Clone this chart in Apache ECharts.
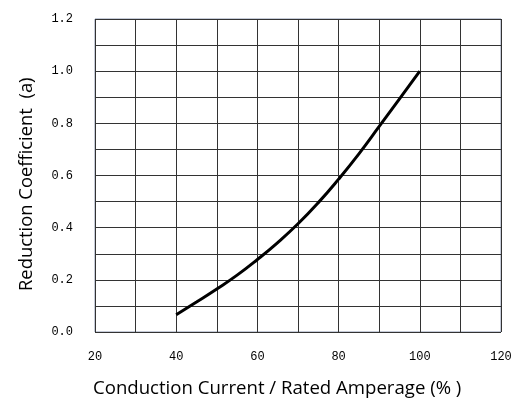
<!DOCTYPE html>
<html><head><meta charset="utf-8">
<script src="https://cdn.jsdelivr.net/npm/echarts@6/dist/echarts.min.js"></script>
<style>html,body{margin:0;padding:0;background:#fff}#c{width:512px;height:401px}</style>
</head><body><div id="c"></div>
<script>
const currentPct = [40, 45, 50, 55, 60, 65, 70, 75, 80, 85, 90, 95, 100];
const reductionCoef = [0.066, 0.115, 0.165, 0.218, 0.278, 0.343, 0.415, 0.496, 0.586, 0.683, 0.788, 0.894, 1.0];
const xTitle = 'Conduction Current / Rated Amperage (% )';
const yTitle = 'Reduction Coefficient  (a)';

const chart = echarts.init(document.getElementById('c'), null, {renderer: 'canvas'});
const tickFont = {fontFamily: 'Liberation Mono', fontSize: 12, color: '#000'};
chart.setOption({
  animation: false,
  grid: {left: 95, right: 11, top: 19, bottom: 69, show: true, borderColor: '#8a96b0', borderWidth: 1,
         containLabel: false, outerBoundsMode: 'none'},
  xAxis: {
    type: 'value', min: 20, max: 120, interval: 10,
    axisLine: {show: false}, axisTick: {show: false},
    splitLine: {show: true, lineStyle: {color: '#333', width: 1}},
    axisLabel: Object.assign({margin: 19, hideOverlap: false, formatter: v => (Math.round(v) % 20 === 0 ? String(Math.round(v)) : '')}, tickFont)
  },
  yAxis: {
    type: 'value', min: 0, max: 1.2, interval: 0.1,
    axisLine: {show: false}, axisTick: {show: false},
    splitLine: {show: true, lineStyle: {color: '#333', width: 1}},
    axisLabel: Object.assign({margin: 22, formatter: v => (Math.round(v * 10) % 2 === 0 ? v.toFixed(1) : '')}, tickFont)
  },
  graphic: [
    {type: 'text', x: 93, y: 389, style: {text: xTitle, font: '18.6px "Open Sans"', fill: '#000', textVerticalAlign: 'middle', textAlign: 'left'}},
    {type: 'text', x: 27, y: 291, rotation: Math.PI / 2, style: {text: yTitle, font: '18.4px "Open Sans"', fill: '#000', textVerticalAlign: 'middle', textAlign: 'left'}}
  ],
  series: [{
    type: 'line', smooth: 0.5, symbol: 'none',
    data: currentPct.map((x, i) => [x, reductionCoef[i]]),
    lineStyle: {color: '#000', width: 3}
  }]
});
</script></body></html>
